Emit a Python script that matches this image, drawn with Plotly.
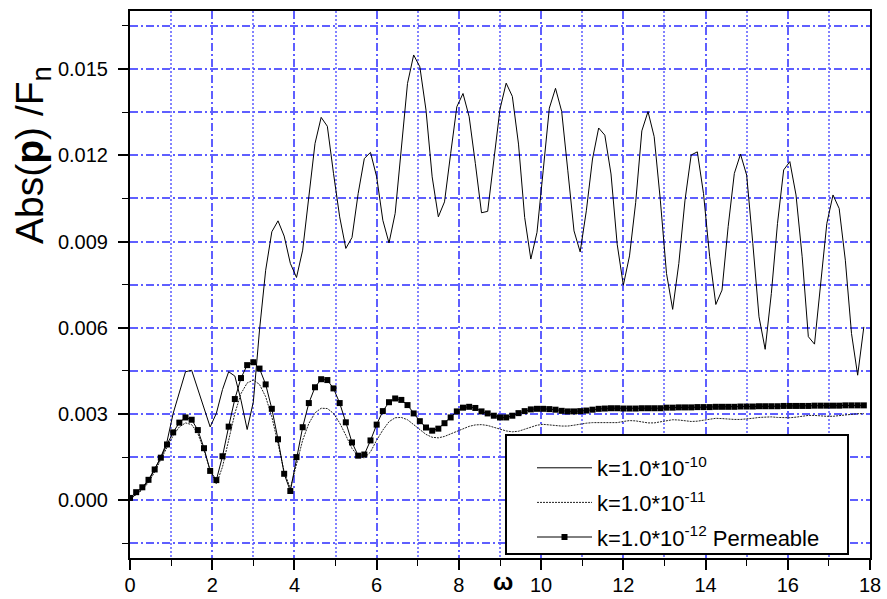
import plotly.graph_objects as go

# Frequency samples (step 0.15) and |p|/Fn responses, in units of 1e-3
omega = [round(0.15 * i, 2) for i in range(120)]
SCALE = 1e-3

k10 = [
    0.03, 0.20, 0.40, 0.68, 1.06, 1.50, 2.04, 3.02, 3.77, 4.47,
    4.52, 3.89, 3.19, 2.55, 3.02, 3.85, 4.47, 4.32, 3.48, 2.46,
    3.42, 5.92, 8.00, 9.34, 9.72, 9.19, 8.24, 7.75, 8.70, 10.50,
    12.41, 13.32, 13.01, 11.37, 9.86, 8.76, 9.14, 10.67, 11.89, 12.10,
    11.25, 9.74, 8.95, 9.98, 12.30, 14.50, 15.49, 15.08, 13.57, 11.25,
    9.86, 10.38, 12.06, 13.69, 14.15, 13.34, 11.72, 10.00, 10.05, 11.93,
    13.61, 14.51, 14.05, 12.39, 9.84, 8.39, 9.32, 11.46, 13.64, 14.33,
    13.53, 11.46, 9.37, 8.64, 10.07, 11.87, 12.95, 12.70, 11.35, 8.91,
    7.48, 8.50, 10.35, 12.85, 13.52, 12.65, 10.44, 7.89, 6.64, 8.24,
    10.44, 12.01, 12.12, 10.67, 8.47, 6.81, 7.31, 9.52, 11.37, 12.04,
    11.31, 8.93, 6.38, 5.25, 7.19, 9.63, 11.49, 11.78, 10.62, 8.47,
    5.69, 5.43, 7.43, 9.63, 10.62, 10.15, 8.35, 5.80, 4.35, 6.03,
]

k11 = [
    0.03, 0.18, 0.36, 0.62, 0.98, 1.42, 1.85, 2.25, 2.55, 2.69,
    2.63, 2.32, 1.74, 1.04, 0.56, 1.16, 2.09, 3.02, 3.71, 4.08,
    4.18, 4.03, 3.60, 2.90, 1.97, 0.99, 0.41, 1.28, 2.09, 2.67,
    3.04, 3.20, 3.19, 3.02, 2.69, 2.26, 1.80, 1.53, 1.47, 1.68,
    2.09, 2.44, 2.73, 2.87, 2.88, 2.80, 2.64, 2.45, 2.29, 2.19,
    2.17, 2.22, 2.31, 2.41, 2.50, 2.57, 2.62, 2.63, 2.60, 2.54,
    2.47, 2.41, 2.38, 2.40, 2.47, 2.55, 2.61, 2.64, 2.63, 2.60,
    2.58, 2.58, 2.61, 2.65, 2.68, 2.70, 2.70, 2.69, 2.68, 2.70,
    2.74, 2.77, 2.76, 2.72, 2.69, 2.69, 2.73, 2.78, 2.80, 2.79,
    2.76, 2.74, 2.75, 2.79, 2.83, 2.85, 2.84, 2.82, 2.81, 2.81,
    2.82, 2.85, 2.88, 2.90, 2.90, 2.88, 2.87, 2.87, 2.89, 2.92,
    2.95, 2.95, 2.93, 2.92, 2.92, 2.94, 2.97, 3.00, 3.01, 3.01,
]

k12 = [
    0.08, 0.28, 0.45, 0.71, 1.07, 1.48, 1.94, 2.36, 2.70, 2.88,
    2.80, 2.44, 1.81, 1.02, 0.70, 1.53, 2.56, 3.52, 4.25, 4.70,
    4.80, 4.58, 4.03, 3.18, 2.12, 0.92, 0.32, 1.50, 2.54, 3.38,
    3.93, 4.21, 4.18, 3.89, 3.38, 2.71, 2.01, 1.55, 1.59, 2.08,
    2.63, 3.10, 3.41, 3.54, 3.49, 3.31, 3.02, 2.75, 2.53, 2.42,
    2.49, 2.68, 2.88, 3.09, 3.22, 3.25, 3.21, 3.09, 3.02, 2.94,
    2.88, 2.88, 2.94, 3.03, 3.10, 3.16, 3.18, 3.18, 3.17, 3.15,
    3.11, 3.09, 3.09, 3.10, 3.12, 3.15, 3.18, 3.19, 3.20, 3.20,
    3.19, 3.19, 3.19, 3.20, 3.20, 3.20, 3.20, 3.22, 3.22, 3.23,
    3.23, 3.23, 3.24, 3.24, 3.24, 3.25, 3.25, 3.25, 3.25, 3.26,
    3.26, 3.26, 3.27, 3.27, 3.27, 3.27, 3.28, 3.28, 3.28, 3.28,
    3.28, 3.29, 3.29, 3.29, 3.29, 3.29, 3.30, 3.30, 3.30, 3.30,
]

names = [
    "k=1.0*10<sup>-10</sup>",
    "k=1.0*10<sup>-11</sup>",
    "k=1.0*10<sup>-12</sup> Permeable",
]

FONT = "Arial, Liberation Sans, sans-serif"
BLUE = "rgb(95,95,255)"
BLUE_LIGHT = "rgb(130,130,255)"
GRID_DASHDOT = "8px,3px,2px,3px"
GRID_DOT = "2px,2px"

fig = go.Figure()
fig.add_trace(go.Scatter(
    x=omega, y=[v * SCALE for v in k10], name=names[0], mode="lines",
    line=dict(color="black", width=1), legendgroup="a",
))
fig.add_trace(go.Scatter(
    x=omega, y=[v * SCALE for v in k11], name=names[1], mode="lines",
    line=dict(color="#222222", width=1, dash="2px,1px"), legendgroup="b",
))
fig.add_trace(go.Scatter(
    x=omega, y=[v * SCALE for v in k12], name=names[2], mode="lines+markers",
    line=dict(color="black", width=1),
    marker=dict(symbol="square", size=6, color="black"), legendgroup="c",
))

fig.update_xaxes(
    range=[0, 18], tick0=0, dtick=2, ticks="outside", ticklen=10, tickwidth=2,
    tickcolor="black", showline=True, linewidth=2, linecolor="black", mirror=True,
    showgrid=True, gridcolor=BLUE, gridwidth=2, griddash=GRID_DASHDOT,
    zeroline=False, tickfont=dict(family=FONT, size=20, color="black"),
    ticklabelstandoff=-2, automargin=False,
    minor=dict(dtick=1, ticks="outside", ticklen=6, tickwidth=1, tickcolor="black",
               showgrid=True, gridcolor=BLUE_LIGHT, gridwidth=2, griddash=GRID_DOT),
)
fig.update_yaxes(
    range=[-0.00201, 0.01702], tick0=0, dtick=0.003, tickformat=".3f",
    ticks="outside", ticklen=10, tickwidth=2, tickcolor="black",
    showline=True, linewidth=2, linecolor="black", mirror=True,
    showgrid=True, gridcolor=BLUE, gridwidth=2, griddash=GRID_DASHDOT,
    zeroline=False, tickfont=dict(family=FONT, size=20, color="black"),
    ticklabelstandoff=6, automargin=False,
    minor=dict(dtick=0.0015, ticks="outside", ticklen=6, tickwidth=1, tickcolor="black",
               showgrid=True, gridcolor=BLUE, gridwidth=2, griddash=GRID_DASHDOT),
)

fig.add_annotation(
    text="Abs(<b>p</b>) /F<sub>n</sub>", textangle=-90,
    xref="paper", yref="paper", x=-0.131, y=0.737,
    xanchor="center", yanchor="middle", showarrow=False,
    font=dict(family=FONT, size=39, color="black"),
)
fig.add_annotation(
    text="<b>ω</b>", xref="paper", yref="paper", x=0.5, y=0,
    xshift=3, yshift=-23, xanchor="center", yanchor="middle", showarrow=False,
    font=dict(family=FONT, size=24, color="black"),
)

# Legend frame, drawn as a white box over the curves
fig.add_shape(
    type="rect", xref="paper", yref="paper",
    x0=(506 - 130) / 740, x1=(848 - 130) / 740,
    y0=(558 - 554) / 547, y1=(558 - 435) / 547,
    fillcolor="white", line=dict(color="black", width=2), layer="above",
)

fig.update_layout(
    width=887, height=599,
    margin=dict(l=130, r=17, t=11, b=41, autoexpand=False),
    paper_bgcolor="white", plot_bgcolor="white",
    font=dict(family=FONT, color="black"),
    legend=dict(
        x=(532 - 130) / 740, y=(558 - 447) / 547, xanchor="left", yanchor="top",
        bgcolor="rgba(0,0,0,0)", borderwidth=0,
        font=dict(family=FONT, size=22, color="black"),
        itemwidth=55, tracegroupgap=3, traceorder="grouped",
    ),
    showlegend=True,
)

fig.write_html("out.html")
